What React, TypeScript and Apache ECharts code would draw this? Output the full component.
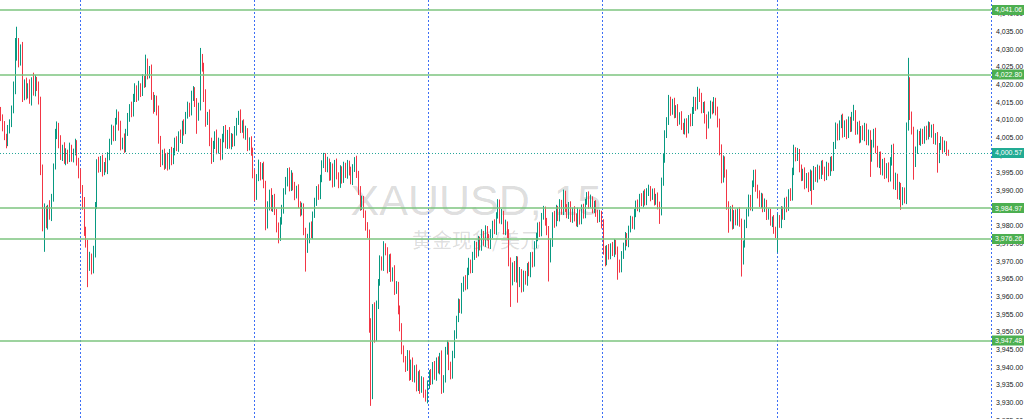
import React, { useEffect, useRef } from "react";
import * as echarts from "echarts";

// ---- data ----
const symbolTitle = "XAUUSD, 15";
const symbolSubtitle = "黄金现货/美元";
const firstOpen = 4012.5;

const closes = [
  4010.8, 4008.2, 4005.1, 4003.6, 4006.9, 4009.3, 4012.8, 4018.5, 4027.6, 4031.2,
  4026.4, 4029.8, 4016.3, 4020.5, 4017.2, 4019.6, 4015.4, 4020.9, 4017.8, 4021.3,
  4019.2, 4015.6, 3996.1, 3979.8, 3984.2, 3980.5, 3985.3, 3982.6, 3987.9, 3996.8,
  4005.7, 4008.2, 4003.4, 3999.6, 4002.1, 3998.3, 4000.8, 3998.9, 4001.7, 3999.2,
  4000.9, 4003.2, 3998.4, 3994.6, 3990.3, 3986.0, 3978.2, 3975.1, 3968.4, 3970.8,
  3967.6, 3972.3, 3985.6, 3997.9, 3996.2, 3998.7, 3995.4, 3997.3, 3995.9, 3999.6,
  4003.8, 4007.1, 4005.2, 4009.6, 4011.2, 4008.3, 4002.5, 4004.1, 4001.9, 4006.4,
  4010.7, 4013.5, 4011.8, 4016.2, 4018.9, 4016.4, 4019.1, 4017.6, 4021.4, 4020.3,
  4025.1, 4022.6, 4023.8, 4016.9, 4013.2, 4015.7, 4012.4, 4004.6, 3998.2, 4000.3,
  3997.1, 3999.4, 3996.8, 4000.6, 3998.5, 4001.2, 4003.7, 4002.1, 4005.8, 4004.3,
  4008.6, 4006.9, 4011.4, 4013.8, 4012.1, 4016.5, 4018.3, 4014.6, 4010.9, 4013.7,
  4026.8, 4024.9, 4016.2, 4009.5, 4011.3, 4003.8, 3999.1, 4002.6, 4005.9, 4001.4,
  4003.7, 3999.8, 4004.5, 4007.2, 4003.1, 4006.3, 4002.8, 4005.1, 4003.4, 4006.8,
  4009.5, 4011.2, 4007.4, 4008.9, 4005.6, 4006.8, 4002.3, 4003.9, 4001.2, 3994.6,
  3988.4, 3993.5, 3997.2, 3994.1, 3996.5, 3991.8, 3980.3, 3985.6, 3989.2, 3985.1,
  3987.8, 3983.9, 3979.4, 3976.8, 3981.3, 3984.6, 3989.7, 3992.4, 3995.3, 3990.8,
  3994.1, 3991.2, 3988.6, 3990.3, 3986.1, 3983.9, 3985.2, 3978.5, 3973.4, 3976.2,
  3979.8, 3977.5, 3983.1, 3986.7, 3990.2, 3988.5, 3993.6, 3997.2, 3999.4, 3996.3,
  3998.1, 3993.7, 3996.4, 3992.1, 3997.5, 3994.3, 3991.6, 3995.8, 3993.2, 3996.9,
  3994.5, 3997.3, 3995.1, 3992.8, 3996.2, 3998.4, 3994.7, 3990.1, 3985.3, 3987.2,
  3983.4, 3979.6, 3977.8, 3951.2, 3932.1, 3956.5, 3948.3, 3957.6, 3963.9, 3970.2,
  3968.4, 3974.1, 3972.6, 3967.8, 3970.9, 3965.3, 3967.4, 3961.7, 3963.2, 3956.1,
  3951.4, 3944.7, 3942.3, 3939.8, 3943.6, 3937.4, 3941.2, 3936.8, 3939.5, 3934.2,
  3937.9, 3933.6, 3936.3, 3932.4, 3930.9, 3934.8, 3938.1, 3936.2, 3940.5, 3937.3,
  3941.6, 3939.2, 3943.1, 3933.8, 3936.5, 3944.7, 3946.2, 3940.1, 3937.8, 3943.5,
  3949.2, 3953.6, 3958.1, 3956.4, 3962.3, 3964.8, 3962.9, 3967.1, 3969.5, 3967.8,
  3971.3, 3974.6, 3972.2, 3975.9, 3974.1, 3977.6, 3975.3, 3978.8, 3976.9, 3974.5,
  3977.8, 3980.4, 3978.6, 3982.9, 3986.3, 3981.7, 3983.4, 3978.5, 3980.2, 3977.6,
  3969.8, 3964.2, 3968.7, 3965.1, 3970.3, 3963.6, 3966.9, 3962.4, 3966.1, 3964.2,
  3968.5, 3966.7, 3971.4, 3969.3, 3974.8, 3976.6, 3979.9, 3978.1, 3982.7, 3984.3,
  3981.2, 3978.4, 3970.6, 3975.2, 3982.9, 3980.7, 3984.8, 3982.4, 3986.3, 3984.1,
  3988.7, 3985.2, 3983.1, 3985.6, 3981.9, 3984.3, 3982.5, 3980.8, 3983.7, 3981.4,
  3984.9, 3983.2, 3986.8, 3988.5, 3986.1, 3987.4, 3984.7, 3985.9, 3983.5, 3982.1,
  3983.3, 3980.4, 3973.2, 3969.8, 3973.5, 3971.6, 3974.2, 3972.3, 3975.1, 3972.8,
  3969.4, 3967.9, 3971.6, 3974.3, 3976.8, 3975.1, 3979.2, 3981.6, 3980.1, 3983.5,
  3986.2, 3985.1, 3987.9, 3986.4, 3989.1, 3986.8, 3989.6, 3990.3, 3988.2, 3989.4,
  3986.9, 3988.1, 3985.7, 3984.1, 3992.6, 3998.9, 4005.8, 4009.7, 4015.2, 4012.4,
  4014.8, 4011.6, 4013.2, 4009.5, 4011.1, 4008.3, 4006.9, 4009.2, 4007.1, 4010.4,
  4009.3, 4012.6, 4015.3, 4013.8, 4017.6, 4016.2, 4012.9, 4014.1, 4010.2, 4008.6,
  4011.3, 4014.2, 4012.7, 4015.1, 4012.3, 4009.1, 4001.4, 3993.2, 3998.6, 3994.7,
  3985.8, 3982.3, 3984.6, 3980.1, 3983.4, 3981.2, 3984.1, 3980.6, 3970.2, 3974.8,
  3980.4, 3983.9, 3987.6, 3985.3, 3991.8, 3994.6, 3990.7, 3988.9, 3986.3, 3988.1,
  3984.9, 3986.4, 3982.8, 3983.7, 3980.9, 3981.8, 3978.7, 3977.4, 3982.1, 3980.5,
  3984.3, 3982.7, 3986.9, 3985.1, 3989.4, 3988.2, 3995.3, 4001.2, 3999.4, 4000.6,
  3996.1, 3993.8, 3995.2, 3991.6, 3993.9, 3990.7, 3994.8, 3991.2, 3995.6, 3993.4,
  3996.1, 3994.2, 3997.3, 3995.7, 3993.8, 3996.9, 3995.1, 3998.4, 3996.6, 4002.7,
  4007.8, 4005.3, 4008.6, 4010.4, 4006.2, 4008.9, 4005.7, 4009.8, 4007.6, 4010.9,
  4011.5, 4006.8, 4008.4, 4004.6, 4007.3, 4005.1, 4007.9, 4003.8, 4005.9, 3999.2,
  4003.1, 4006.4, 4001.7, 3997.6, 3999.8, 3995.4, 3997.9, 3994.3, 3996.8, 3993.5,
  3998.2, 4002.1, 3991.4, 3993.7, 3988.5, 3991.2, 3986.9, 3989.8, 3987.3, 4008.0,
  4020.7, 4011.2, 4006.8, 3997.8, 4001.4, 4005.9, 4003.8, 4006.3, 4004.2, 4007.1,
  4005.4, 4008.3, 4006.2, 4007.5, 4004.1, 4005.3, 3998.8, 4002.4, 4004.2, 4001.8,
  4003.1, 4000.9, 4000.57,
];

const upperWicks = [
  1.1, 0.7, 1.4, 0.9, 1.6, 0.8, 1.2, 2.3, 5.5, 5.1,
  1.9, 1.5, 2.2, 0.9, 1.4, 0.7, 1.8, 1.1, 2.4, 1.3,
  0.8, 1.6, 0.9, 1.2, 2.1, 1.4, 0.6, 1.9, 1.1, 0.8,
  1.7, 1.3, 0.9, 2.2, 0.8, 1.5, 1.1, 0.7, 1.8, 1.2,
  0.9, 1.4, 1.0, 0.8, 1.6, 1.2, 2.1, 1.5, 0.9, 1.8,
  1.3, 2.0, 1.1, 0.9, 1.6, 1.0, 1.4, 0.7, 1.9, 1.2,
  0.8, 1.5, 1.2, 0.9, 1.7, 1.1, 1.4, 0.8, 2.0, 1.0,
  1.2, 0.9, 1.6, 1.1, 1.4, 0.8, 1.9, 1.2, 1.5, 1.0,
  3.3, 2.2, 1.4, 1.8, 0.9, 1.3, 1.1, 1.6, 0.8, 1.2,
  1.5, 0.9, 1.3, 1.1, 1.7, 0.8, 1.2, 1.6, 0.9, 1.4,
  1.1, 1.5, 0.8, 1.3, 1.0, 1.7, 1.2, 0.9, 1.5, 1.1,
  3.5, 1.8, 1.2, 2.4, 0.9, 1.6, 1.1, 1.4, 0.8, 1.3,
  1.2, 0.9, 1.5, 1.0, 1.3, 0.8, 1.6, 1.1, 0.9, 1.4,
  1.0, 1.3, 1.7, 0.9, 1.2, 1.5, 0.8, 1.1, 1.4, 0.9,
  1.3, 1.1, 1.5, 0.8, 1.2, 1.6, 0.9, 1.3, 1.0, 1.4,
  0.9, 1.2, 0.8, 1.5, 1.1, 1.3, 0.9, 1.4, 1.0, 1.2,
  1.6, 0.9, 1.2, 1.0, 1.4, 0.8, 1.3, 1.1, 0.9, 1.5,
  1.1, 1.4, 0.9, 1.2, 1.0, 1.5, 0.8, 1.3, 1.2, 1.1,
  1.4, 0.9, 1.6, 1.2, 1.1, 1.5, 0.8, 1.3, 1.0, 1.2,
  0.9, 1.3, 1.1, 1.6, 1.2, 1.0, 1.4, 0.8, 1.1, 1.3,
  1.2, 0.9, 1.4, 1.1, 2.6, 1.3, 1.8, 1.2, 1.0, 1.4,
  1.1, 1.5, 0.9, 1.3, 1.0, 1.2, 0.8, 1.4, 1.1, 0.9,
  1.3, 1.0, 1.4, 0.8, 1.2, 1.1, 0.9, 1.5, 1.0, 1.2,
  0.9, 1.3, 1.1, 0.8, 1.2, 1.4, 1.0, 1.3, 0.9, 1.2,
  1.1, 1.4, 0.9, 1.6, 1.2, 1.0, 1.3, 0.8, 1.4, 1.1,
  1.2, 0.9, 1.3, 1.1, 1.5, 0.8, 1.2, 1.0, 1.4, 0.9,
  1.3, 1.1, 0.8, 1.2, 1.0, 1.4, 0.9, 1.3, 1.1, 0.8,
  1.2, 1.0, 1.4, 0.9, 1.2, 1.1, 1.3, 0.8, 1.5, 1.0,
  1.4, 1.2, 0.9, 1.3, 1.1, 1.0, 1.4, 0.8, 1.2, 1.1,
  0.9, 1.3, 1.1, 1.2, 0.8, 1.4, 1.0, 1.2, 0.9, 1.3,
  1.1, 1.0, 1.5, 1.2, 0.9, 1.3, 1.1, 0.8, 1.2, 1.0,
  1.5, 1.2, 0.9, 1.1, 1.3, 0.8, 1.2, 1.0, 1.4, 0.9,
  1.1, 1.3, 0.8, 1.0, 1.2, 1.4, 0.9, 1.1, 1.3, 1.0,
  1.2, 0.9, 1.4, 1.1, 1.0, 1.3, 0.8, 1.2, 1.1, 0.9,
  1.3, 1.0, 1.2, 0.9, 1.4, 1.1, 0.8, 1.2, 1.0, 1.3,
  0.9, 1.2, 1.1, 1.3, 0.8, 1.2, 1.0, 1.3, 0.9, 1.1,
  1.2, 0.9, 1.3, 1.1, 1.0, 1.4, 1.2, 1.0, 1.8, 1.3,
  1.1, 1.4, 0.9, 1.2, 1.0, 1.3, 0.8, 1.1, 1.2, 0.9,
  1.3, 1.0, 1.2, 1.1, 1.7, 1.2, 1.4, 0.9, 1.1, 1.3,
  1.0, 1.2, 0.9, 1.3, 1.1, 1.4, 1.2, 1.6, 1.3, 1.0,
  1.2, 1.1, 0.9, 1.3, 1.0, 1.2, 0.8, 1.1, 1.4, 1.0,
  1.3, 0.9, 1.2, 1.1, 1.0, 1.2, 1.3, 0.9, 1.1, 1.2,
  1.0, 1.3, 0.9, 1.2, 1.1, 0.8, 1.2, 1.0, 1.3, 0.9,
  1.2, 1.1, 1.0, 1.3, 0.9, 1.2, 1.1, 1.7, 1.0, 1.4,
  1.1, 1.2, 0.9, 1.3, 1.0, 1.2, 1.1, 0.8, 1.3, 1.0,
  1.2, 0.9, 1.1, 1.3, 1.0, 1.2, 0.9, 1.1, 1.3, 1.0,
  1.4, 1.1, 1.2, 1.0, 1.3, 0.9, 1.2, 1.1, 1.0, 1.3,
  2.7, 1.2, 1.0, 1.3, 0.9, 1.1, 1.2, 1.0, 1.3, 1.1,
  1.2, 1.0, 1.3, 0.9, 1.1, 1.2, 1.0, 1.3, 0.9, 1.1,
  1.2, 0.8, 1.1, 1.3, 1.0, 1.2, 0.9, 1.1, 1.0, 1.2,
  6.8, 1.3, 1.1, 1.2, 1.0, 1.3, 0.9, 1.2, 1.1, 1.0,
  1.2, 1.2, 1.0, 1.1, 1.3, 0.9, 1.2, 1.0, 1.1, 0.9,
  1.0, 0.8, 0.6,
];

const lowerWicks = [
  1.2, 1.5, 0.9, 1.7, 1.1, 0.8, 1.4, 1.0, 1.3, 0.9,
  1.6, 1.1, 1.3, 0.8, 1.5, 1.2, 0.9, 1.4, 1.0, 1.2,
  1.1, 1.3, 1.8, 1.4, 7.2, 1.2, 1.6, 0.9, 1.3, 1.1,
  0.9, 1.2, 1.5, 1.0, 1.3, 0.8, 1.2, 1.4, 0.9, 1.1,
  1.3, 1.0, 1.4, 1.2, 0.9, 1.5, 1.1, 1.3, 5.8, 1.2,
  1.4, 1.1, 1.3, 0.9, 1.2, 1.0, 1.5, 1.1, 0.8, 1.3,
  1.1, 0.9, 1.3, 1.2, 1.0, 1.4, 1.2, 0.9, 1.3, 1.1,
  1.0, 1.3, 1.1, 0.9, 1.2, 1.4, 1.0, 1.2, 0.9, 1.3,
  1.1, 1.2, 0.9, 1.3, 1.5, 1.0, 1.2, 1.4, 1.6, 1.1,
  1.3, 1.0, 1.2, 0.9, 1.4, 1.1, 1.3, 1.0, 1.2, 0.9,
  1.2, 1.4, 1.0, 1.1, 1.3, 0.9, 1.2, 1.0, 4.9, 1.2,
  1.1, 1.3, 1.2, 1.5, 1.0, 1.3, 1.6, 1.1, 0.9, 1.2,
  1.0, 1.3, 1.1, 0.9, 1.2, 1.4, 1.0, 1.2, 1.1, 0.9,
  1.3, 1.0, 1.2, 1.1, 0.9, 1.3, 1.2, 1.0, 1.4, 1.2,
  1.5, 1.1, 0.9, 1.3, 1.0, 1.2, 1.6, 1.1, 1.3, 1.0,
  1.2, 0.9, 1.3, 1.8, 1.1, 1.0, 1.2, 0.9, 1.3, 1.1,
  1.0, 1.2, 1.4, 0.9, 1.1, 1.3, 1.0, 1.2, 6.4, 1.1,
  1.2, 1.0, 1.3, 0.9, 1.1, 1.2, 1.0, 1.3, 0.9, 1.1,
  1.2, 1.0, 0.9, 1.3, 1.1, 1.2, 1.0, 0.9, 1.3, 1.1,
  1.0, 1.2, 0.9, 1.1, 1.3, 1.0, 1.2, 1.4, 1.1, 0.9,
  1.2, 1.0, 1.3, 1.5, 3.1, 1.2, 1.4, 1.0, 1.2, 0.9,
  1.1, 1.2, 1.0, 1.3, 0.9, 1.2, 1.1, 1.3, 1.0, 1.2,
  1.3, 1.1, 1.0, 1.2, 0.9, 1.3, 1.1, 1.0, 1.2, 1.1,
  1.0, 1.2, 0.9, 1.1, 0.7, 1.2, 1.0, 1.3, 1.1, 0.9,
  1.2, 1.0, 1.3, 1.4, 1.1, 0.9, 1.2, 1.0, 1.3, 1.1,
  1.0, 1.2, 0.9, 1.1, 1.3, 1.0, 1.2, 0.9, 1.1, 1.3,
  1.2, 1.0, 1.3, 0.9, 1.1, 1.2, 1.0, 1.3, 1.1, 0.9,
  1.1, 1.3, 1.0, 1.2, 0.9, 1.1, 1.3, 1.0, 1.2, 1.1,
  1.3, 7.2, 1.1, 1.0, 1.2, 5.4, 1.0, 1.3, 1.1, 0.9,
  1.2, 1.0, 1.3, 1.1, 0.9, 1.2, 1.0, 1.3, 1.1, 1.0,
  1.2, 1.1, 6.4, 1.0, 1.2, 1.3, 0.9, 1.1, 1.2, 1.0,
  1.1, 1.3, 1.0, 1.2, 0.9, 1.1, 1.3, 1.0, 1.2, 1.1,
  1.0, 1.2, 1.1, 0.9, 1.3, 1.0, 1.2, 1.1, 1.0, 1.3,
  1.1, 1.2, 1.4, 1.3, 1.0, 1.2, 1.1, 0.9, 1.2, 1.0,
  4.7, 1.2, 1.1, 1.0, 1.3, 0.9, 1.2, 1.1, 1.0, 1.2,
  1.1, 1.0, 1.3, 0.9, 1.2, 1.1, 1.0, 1.2, 1.3, 0.9,
  1.2, 1.0, 1.1, 3.6, 1.2, 1.3, 1.1, 1.0, 1.2, 1.3,
  1.0, 1.2, 1.1, 1.3, 0.9, 1.2, 1.0, 1.1, 2.2, 1.0,
  1.2, 1.1, 1.0, 1.3, 0.9, 1.2, 1.1, 1.0, 1.3, 4.1,
  1.1, 1.0, 1.2, 0.9, 1.1, 1.3, 1.5, 1.2, 1.0, 1.1,
  1.3, 4.3, 1.1, 1.2, 1.0, 1.1, 1.2, 0.9, 4.6, 1.2,
  1.0, 1.1, 1.3, 1.0, 1.2, 0.9, 1.1, 1.2, 1.0, 1.3,
  1.1, 1.0, 1.2, 1.1, 0.9, 1.3, 1.0, 0.9, 5.0, 1.1,
  1.2, 1.0, 1.1, 1.3, 0.9, 1.2, 1.1, 1.0, 1.2, 1.1,
  1.0, 1.2, 1.1, 1.3, 1.0, 1.2, 0.9, 5.3, 1.1, 1.0,
  1.2, 1.1, 1.0, 1.3, 1.2, 0.9, 1.1, 1.0, 1.2, 1.1,
  1.0, 1.2, 1.1, 1.0, 1.3, 1.1, 1.2, 0.9, 1.1, 1.0,
  1.2, 1.1, 1.0, 1.3, 1.1, 0.9, 1.2, 1.0, 1.1, 5.4,
  1.1, 1.0, 1.2, 1.1, 1.3, 1.0, 1.2, 1.1, 0.9, 1.2,
  1.0, 1.2, 1.1, 1.3, 1.0, 1.2, 2.4, 1.1, 1.0, 1.2,
  1.1, 1.3, 1.0, 4.8, 1.2, 1.1, 1.0, 1.2, 1.1, 1.0,
  1.2, 1.0, 1.1, 1.3, 1.0, 1.2, 3.8, 1.1, 1.0, 1.2,
  1.0, 1.1, 0.8,
];

const levelLines = [4041.06, 4022.8, 3984.97, 3976.26, 3947.48];
const lastPrice = 4000.57;

const yMin = 3925;
const yMax = 4045;
const yStep = 5;

const slotCount = 546; // candle slots incl. empty right margin
const daySeparatorStart = 44;
const barsPerDay = 96;

const fmt = (v: number) =>
  Number(v).toLocaleString("en-US", { minimumFractionDigits: 2, maximumFractionDigits: 2 });

export default function App() {
  const ref = useRef<HTMLDivElement>(null);

  useEffect(() => {
    if (!ref.current) return;
    const chart = echarts.init(ref.current, null, { renderer: "svg" });

    const candles = closes.map((c, i) => {
      const o = i === 0 ? firstOpen : closes[i - 1];
      const lo = Math.min(o, c) - lowerWicks[i];
      const hi = Math.max(o, c) + upperWicks[i];
      return [o, c, lo, hi];
    });
    const categories = Array.from({ length: slotCount }, (_, i) => String(i));

    const green = "#089981";
    const red = "#f23645";
    const font = "Liberation Sans, Arial, sans-serif";

    const levelData = levelLines.map((v) => ({
      yAxis: v,
      lineStyle: { color: "#7cc47f", width: 1.6, type: "solid" },
      label: {
        show: true,
        position: "end",
        distance: 1,
        formatter: () => fmt(v),
        backgroundColor: "#4caf50",
        color: "#ffffff",
        fontSize: 7,
        fontFamily: font,
        padding: [2, 3, 1, 3],
      },
    }));

    const lastData = {
      yAxis: lastPrice,
      lineStyle: { color: "#26a69a", width: 1, type: [1, 2] },
      label: {
        show: true,
        position: "end",
        distance: 1,
        formatter: () => fmt(lastPrice),
        backgroundColor: "#22ab94",
        color: "#ffffff",
        fontSize: 7,
        fontFamily: font,
        padding: [2, 3, 1, 3],
      },
    };

    chart.setOption({
      animation: false,
      backgroundColor: "#ffffff",
      grid: {
        left: 0,
        right: 33,
        top: 0,
        bottom: 0,
        containLabel: false,
        outerBoundsMode: "none",
      },
      graphic: [
        {
          type: "text",
          x: 476,
          y: 204,
          z: 0,
          silent: true,
          style: {
            text: symbolTitle,
            align: "center",
            verticalAlign: "middle",
            fontSize: 43,
            fontFamily: font,
            fill: "rgba(0,0,0,0.15)",
          },
        },
        {
          type: "text",
          x: 476,
          y: 243,
          z: 0,
          silent: true,
          style: {
            text: symbolSubtitle,
            align: "center",
            verticalAlign: "middle",
            fontSize: 20,
            fontFamily: "Noto Sans CJK SC, sans-serif",
            fill: "rgba(0,0,0,0.15)",
          },
        },
      ],
      xAxis: {
        type: "category",
        data: categories,
        boundaryGap: true,
        axisLine: { show: false },
        axisTick: { show: false },
        axisLabel: { show: false },
        splitLine: {
          show: true,
          interval: (index: number) =>
            index >= daySeparatorStart &&
            index < closes.length &&
            (index - daySeparatorStart) % barsPerDay === 0,
          lineStyle: { color: "#3d6ff5", width: 1, type: [2, 2] },
        },
      },
      yAxis: {
        type: "value",
        position: "right",
        min: yMin,
        max: yMax,
        interval: yStep,
        axisLine: { show: false },
        axisTick: { show: false },
        splitLine: { show: false },
        axisLabel: {
          margin: 5,
          fontSize: 7,
          color: "#131722",
          fontFamily: font,
          formatter: (v: number) => fmt(v),
        },
      },
      series: [
        {
          type: "candlestick",
          data: candles,
          barWidth: 1.3,
          itemStyle: {
            color: green,
            color0: red,
            borderColor: green,
            borderColor0: red,
            borderWidth: 1,
          },
          markLine: {
            silent: true,
            symbol: ["none", "none"],
            animation: false,
            data: [...levelData, lastData],
          },
        },
      ],
    });

    return () => chart.dispose();
  }, []);

  // the value range 3925–4045 spans slightly more than the visible 419px window
  return (
    <div
      ref={ref}
      style={{ position: "fixed", left: 0, top: -4, width: 1024, height: 424, background: "#fff" }}
    />
  );
}
